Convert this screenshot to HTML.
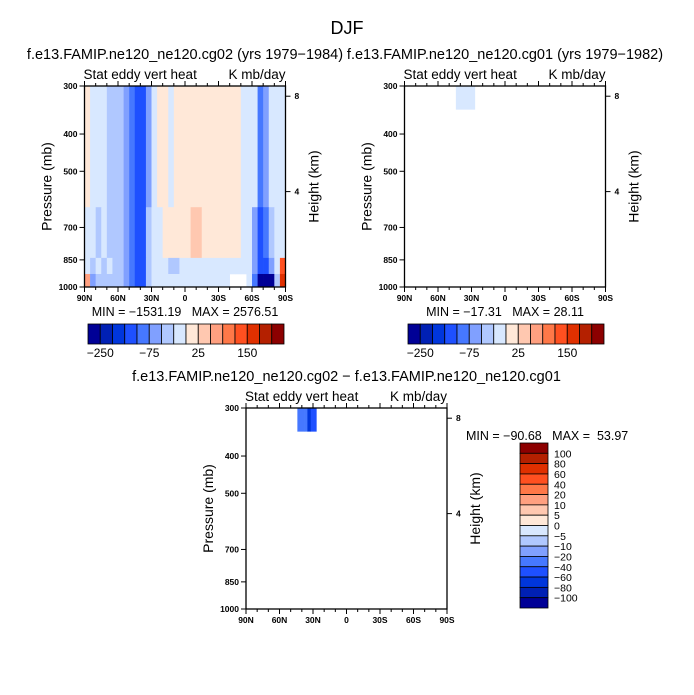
<!DOCTYPE html>
<html><head><meta charset="utf-8"><style>
body{margin:0;background:#fff;}
svg{display:block;font-family:"Liberation Sans",sans-serif;}
text{white-space:pre;}
</style></head><body>
<svg id="fig" width="694" height="695" viewBox="0 0 694 695" xmlns="http://www.w3.org/2000/svg" xml:space="preserve">
<rect width="694" height="695" fill="#fff"/>
<text x="347" y="34" font-size="18" text-anchor="middle">DJF</text>
</svg>
<script>
// ---- data ----
const colors=["#000096","#0020b4","#0036dc","#1e50ff","#4678ff","#80a0ff","#b0c8ff","#d8e8ff","#ffe8d8","#ffc8b0","#ffa080","#ff7848","#ff5020","#e03000","#b42000","#8c0000"];
const levelsAbs=[-250,-200,-150,-100,-75,-50,-25,0,25,50,75,100,150,200,250];
const levelsDiff=[-100,-80,-60,-40,-20,-10,-5,0,5,10,20,40,60,80,100];
const barLabelsAbs=["-250","-75","25","150"];
const barLabelIdxAbs=[1,5,9,13];
const barLabelsDiff=["100","80","60","40","20","10","5","0","\u22125","\u221210","\u221220","\u221240","\u221260","\u221280","\u2212100"];
const xTickLabels=["90N","60N","30N","0","30S","60S","90S"];
const pTicks=[300,400,500,700,850,1000];
const hTicks=[8,4];
const layerP=[300,620,840,925,1000];
// panel 1 field: 36 latitude bins (5 deg, 90N->90S), four pressure layers
const upper=[10,-10,-20,-10,-30,-30,-40,-60,-80,-110,-120,-60,-10,10,10,-10,10,10,10,10,20,10,10,10,10,10,10,10,-10,-10,-20,-80,-60,-20,-10,-10];
const mid=[-10,-10,-30,-10,-30,-40,-30,-60,-80,-120,-110,-30,-10,-10,10,10,10,10,20,30,30,20,10,10,10,10,10,10,-10,-10,-60,-110,-90,-30,-10,-10];
const low=[-20,-30,-20,-30,-20,-40,-50,-60,-90,-120,-110,-40,-10,-10,-10,-30,-30,-10,-10,-10,-10,-10,-10,-10,-10,-10,-10,-10,-10,-10,-60,-120,-120,-60,-20,100];
const bottom=[60,-60,-40,-40,-30,-40,-50,-60,-90,-140,-120,-40,-10,-10,-10,-10,-10,-10,-10,-10,-10,-10,-10,-10,-10,-10,null,null,null,-10,-100,-260,-260,-260,-40,150];
// panel 2 and 3 patches
const p2Edges=[44,27]; const p2Vals=[-3]; const p2P=[300,345];
const p3Edges=[44,38,35,32,27]; const p3Vals=[-40,-30,-80,-50]; const p3P=[300,345];

const NS="http://www.w3.org/2000/svg";
const svg=document.getElementById('fig');
function el(tag,attrs,parent,txt){const e=document.createElementNS(NS,tag);for(const k in attrs)e.setAttribute(k,attrs[k]);if(txt!==undefined)e.textContent=txt;(parent||svg).appendChild(e);return e;}
function colorFor(v,lev){let i=0;for(const l of lev){if(v>=l)i++;}return colors[i];}

function panel(ox,oy,title,cells,lev,name){
  const W=201,H=201;
  const g=el('g',{},svg);
  
  
  const xS=lat=>ox+(90-lat)/180*W;
  const yS=p=>oy+Math.log(p/300)/Math.log(1000/300)*H;
  cells.forEach(c=>{
    if(c.v===null)return;
    const r=el('rect',{x:xS(c.l0),y:yS(c.p0),width:xS(c.l1)-xS(c.l0)+0.3,height:yS(c.p1)-yS(c.p0)+0.3,fill:colorFor(c.v,lev)},g);
    
    
  });
  el('rect',{x:ox,y:oy,width:W,height:H,fill:'none',stroke:'#000','stroke-width':1.3},g);
  for(let lat=90;lat>=-90;lat-=10){const x=xS(lat);const maj=lat%30===0;const L=maj?5:3;
    el('line',{x1:x,y1:oy,x2:x,y2:oy-L,stroke:'#000'},g);el('line',{x1:x,y1:oy+H,x2:x,y2:oy+H+L,stroke:'#000'},g);}
  xTickLabels.forEach((t,i)=>{const tx=el('text',{x:ox+i*W/6,y:oy+H+14,'font-size':8.5,'font-weight':'bold','text-anchor':'middle'},g,t);
    });
  pTicks.forEach(p=>{const y=yS(p);el('line',{x1:ox,y1:y,x2:ox-5,y2:y,stroke:'#000'},g);
    const tx=el('text',{x:ox-7,y:y+3,'font-size':8.5,'font-weight':'bold','text-anchor':'end'},g,p);
    });
  hTicks.forEach(h=>{const p=1000*Math.exp(-h/7);const y=yS(p);el('line',{x1:ox+W,y1:y,x2:ox+W+5,y2:y,stroke:'#000'},g);
    const tx=el('text',{x:ox+W+9,y:y+3,'font-size':8.5,'font-weight':'bold'},g,h);
    });
  let t=el('text',{x:ox-33,y:oy+H/2,'font-size':14,'text-anchor':'middle',transform:`rotate(-90 ${ox-33} ${oy+H/2})`},g,'Pressure (mb)');
  
  t=el('text',{x:ox+W+33,y:oy+H/2,'font-size':14,'text-anchor':'middle',transform:`rotate(-90 ${ox+W+33} ${oy+H/2})`},g,'Height (km)');
  
  t=el('text',{x:ox-1,y:oy-7,'font-size':13.5},g,'Stat eddy vert heat');
  
  t=el('text',{x:ox+W,y:oy-7,'font-size':13.5,'text-anchor':'end'},g,'K mb/day');
  
  t=el('text',{x:ox+W/2,y:oy-27,'font-size':14.5,'text-anchor':'middle'},g,title);
  
}
function gridCells(){const c=[];const layers=[upper,mid,low,bottom];
  for(let j=0;j<4;j++)for(let i=0;i<36;i++)c.push({l0:90-5*i,l1:85-5*i,p0:layerP[j],p1:layerP[j+1],v:layers[j][i]});return c;}
function patchCells(edges,vals,pp){return vals.map((v,i)=>({l0:edges[i],l1:edges[i+1],p0:pp[0],p1:pp[1],v:v}));}

panel(84.5,86,'f.e13.FAMIP.ne120_ne120.cg02 (yrs 1979\u22121984)',gridCells(),levelsAbs,'panel-cg02');
panel(404.5,86,'f.e13.FAMIP.ne120_ne120.cg01 (yrs 1979\u22121982)',patchCells(p2Edges,p2Vals,p2P),levelsAbs,'panel-cg01');
panel(246,408,'f.e13.FAMIP.ne120_ne120.cg02 \u2212 f.e13.FAMIP.ne120_ne120.cg01',patchCells(p3Edges,p3Vals,p3P),levelsDiff,'panel-diff');

function minmax(x,y,txt,anchor){const t=el('text',{x:x,y:y,'font-size':12.5,'text-anchor':anchor},svg,txt);
  }
minmax(185,316,'MIN = \u22121531.19   MAX = 2576.51','middle');
minmax(505,316,'MIN = \u221217.31   MAX = 28.11','middle');
minmax(466,440,'MIN = \u221290.68   MAX =  53.97','start');

function hbar(x0,name){const g=el('g',{},svg);
  const w=196/16;colors.forEach((c,i)=>{const r=el('rect',{x:x0+i*w,y:324,width:w,height:20,fill:c,stroke:'#000','stroke-width':0.8},g);
    });
  barLabelsAbs.forEach((l,k)=>{const t=el('text',{x:x0+barLabelIdxAbs[k]*w,y:357,'font-size':12,'text-anchor':'middle'},g,l.replace('-','\u2212'));
    });}
hbar(88,'colorbar-cg02');hbar(408,'colorbar-cg01');
(function(){const g=el('g',{},svg);
  const h=165/16;for(let i=0;i<16;i++){const r=el('rect',{x:520,y:443+i*h,width:28,height:h,fill:colors[15-i],stroke:'#000','stroke-width':0.8},g);
    }
  barLabelsDiff.forEach((l,i)=>{const t=el('text',{x:554,y:443+(i+1)*h+4,'font-size':10.5},g,l);
    });})();
</script>
</body></html>
